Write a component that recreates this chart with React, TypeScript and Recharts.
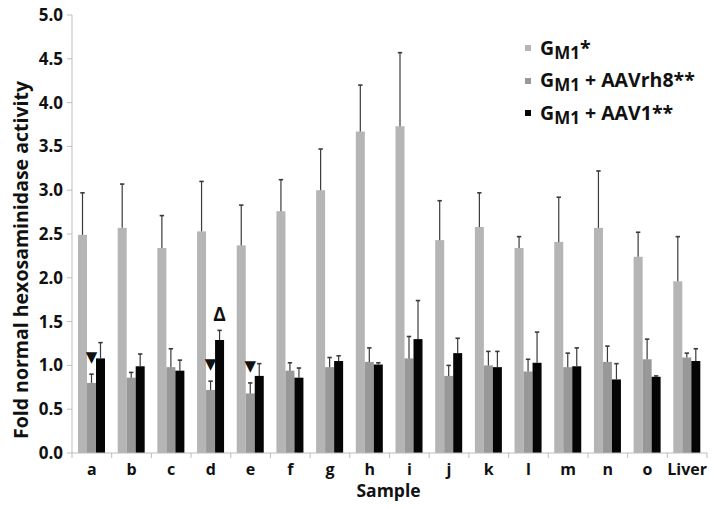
import React from 'react';
import { BarChart, Bar, XAxis, YAxis, LabelList, Legend } from 'recharts';

const categories = ['a', 'b', 'c', 'd', 'e', 'f', 'g', 'h', 'i', 'j', 'k', 'l', 'm', 'n', 'o', 'Liver'];
const gm1 = [2.49, 2.57, 2.34, 2.53, 2.37, 2.76, 3.0, 3.67, 3.73, 2.43, 2.58, 2.34, 2.41, 2.57, 2.24, 1.96];
const gm1Err = [0.48, 0.5, 0.37, 0.57, 0.46, 0.36, 0.47, 0.53, 0.84, 0.45, 0.39, 0.13, 0.51, 0.65, 0.28, 0.51];
const rh8 = [0.8, 0.86, 0.98, 0.72, 0.68, 0.94, 0.98, 1.04, 1.08, 0.88, 1.0, 0.93, 0.98, 1.04, 1.07, 1.09];
const rh8Err = [0.1, 0.06, 0.21, 0.1, 0.12, 0.09, 0.11, 0.16, 0.25, 0.12, 0.16, 0.14, 0.16, 0.18, 0.23, 0.05];
const aav1 = [1.08, 0.99, 0.94, 1.29, 0.88, 0.86, 1.05, 1.01, 1.3, 1.14, 0.98, 1.03, 0.99, 0.84, 0.87, 1.05];
const aav1Err = [0.18, 0.14, 0.12, 0.11, 0.14, 0.11, 0.06, 0.02, 0.44, 0.17, 0.18, 0.35, 0.21, 0.18, 0.01, 0.14];
const rh8Marks = ['▼\uFE0E', '', '', '▼\uFE0E', '▼\uFE0E', '', '', '', '', '', '', '', '', '', '', ''];
const aav1Marks = ['', '', '', 'Δ', '', '', '', '', '', '', '', '', '', '', '', ''];
const yTicks = [0, 0.5, 1, 1.5, 2, 2.5, 3, 3.5, 4, 4.5, 5];

const data = categories.map((c, i) => ({
  name: c,
  gm1: gm1[i],
  gm1Err: gm1Err[i],
  rh8: rh8[i],
  rh8Err: rh8Err[i],
  aav1: aav1[i],
  aav1Err: aav1Err[i],
  rh8Mark: rh8Marks[i],
  aav1Mark: aav1Marks[i],
}));

const FONT = '"Open Sans", "DejaVu Sans", sans-serif';
const C_LIGHT = '#b5b5b5';
const C_MED = '#989898';
const C_DARK = '#050505';
const ERR = '#3a3a3a';

const makeShape = (valKey: string, errKey: string) => (props: any) => {
  const { x, y, width, height, fill, payload } = props;
  const v = payload[valKey];
  const e = payload[errKey];
  const ppu = v ? height / v : 0;
  const top = y - e * ppu;
  const cx = x + width / 2;
  return (
    <g>
      <rect x={x} y={y} width={width} height={height} fill={fill} />
      <line x1={cx} x2={cx} y1={y} y2={top} stroke={ERR} strokeWidth={1.2} />
      <line x1={cx - 2.2} x2={cx + 2.2} y1={top} y2={top} stroke={ERR} strokeWidth={1.6} />
    </g>
  );
};

const makeMark = (valKey: string, errKey: string, gap: number, size: number, family: string) => (props: any) => {
  const { x, y, width, height, value, index } = props;
  if (!value) return null;
  const d: any = data[index];
  const ppu = d[valKey] ? height / d[valKey] : 0;
  const top = y - d[errKey] * ppu;
  return (
    <text x={x + width / 2} y={top - gap} textAnchor="middle" fontFamily={family} fontWeight={700} fontSize={size} fill="#111">
      {value}
    </text>
  );
};

const XTick = (props: any) => {
  const { x, y, payload, index } = props;
  const off = payload && payload.offset != null ? payload.offset : 19.84;
  return (
    <g>
      <line x1={x - off} x2={x - off} y1={y} y2={y + 5} stroke="#bdbdbd" />
      {index === categories.length - 1 && <line x1={x + off} x2={x + off} y1={y} y2={y + 5} stroke="#bdbdbd" />}
      <text x={x} y={y + 22} textAnchor="middle" fontFamily={FONT} fontWeight={700} fontSize={16} fill="#111">
        {payload.value}
      </text>
    </g>
  );
};

const legendItems = [
  { color: C_LIGHT, rest: '*' },
  { color: C_MED, rest: ' + AAVrh8**' },
  { color: C_DARK, rest: ' + AAV1**' },
];

const LegendContent = () => (
  <div style={{ fontFamily: FONT, fontWeight: 700, fontSize: 19.5, color: '#111' }}>
    {legendItems.map((it, i) => (
      <div key={i} style={{ height: 32.5, lineHeight: '32.5px', whiteSpace: 'nowrap', display: 'flex', alignItems: 'center' }}>
        <span style={{ display: 'inline-block', width: 6, height: 6, background: it.color, marginRight: 9 }} />
        <span>
          G
          <span style={{ fontSize: 17, position: 'relative', top: 4 }}>M1</span>
          {it.rest}
        </span>
      </div>
    ))}
  </div>
);

const YLabel = (props: any) => {
  const vb = props.viewBox || { x: 0, y: 15, width: 72, height: 438 };
  const cx = vb.x + 28;
  const cy = 260;
  return (
    <text x={cx} y={cy} transform={`rotate(-90, ${cx}, ${cy})`} textAnchor="middle" fontFamily={FONT} fontWeight={700} fontSize={19.5} fill="#111">
      Fold normal hexosaminidase activity
    </text>
  );
};

const XLabel = (props: any) => {
  const vb = props.viewBox || { x: 72, y: 453, width: 635, height: 56 };
  return (
    <text x={vb.x + vb.width / 2 - 1} y={vb.y + 44} textAnchor="middle" fontFamily={FONT} fontWeight={700} fontSize={17.5} fill="#111">
      Sample
    </text>
  );
};

export default function App() {
  return (
    <div style={{ position: 'absolute', left: 0, top: 0, width: 714, height: 509, background: '#fff' }}>
      <BarChart width={714} height={509} data={data} margin={{ top: 15, right: 7, left: 0, bottom: 0 }} barGap={0} barSize={9}>
        <XAxis
          dataKey="name"
          height={56}
          tickSize={0}
          tickMargin={0}
          tickLine={false}
          axisLine={{ stroke: '#bdbdbd' }}
          tick={<XTick />}
          interval={0}
          label={<XLabel />}
        />
        <YAxis
          width={72}
          domain={[0, 5]}
          ticks={yTicks}
          interval={0}
          tickFormatter={(v: number) => v.toFixed(1)}
          axisLine={{ stroke: '#bdbdbd' }}
          tickLine={{ stroke: '#bdbdbd' }}
          tickSize={5}
          tickMargin={4}
          tick={{ fontFamily: FONT, fontWeight: 700, fontSize: 17, fill: '#111' }}
          label={<YLabel />}
        />
        <Legend
          layout="vertical"
          align="center"
          verticalAlign="middle"
          content={<LegendContent />}
          wrapperStyle={{ position: 'absolute', left: 525, top: 32, width: 189, height: 100 }}
        />
        <Bar dataKey="gm1" fill={C_LIGHT} isAnimationActive={false} shape={makeShape('gm1', 'gm1Err')} />
        <Bar dataKey="rh8" fill={C_MED} isAnimationActive={false} shape={makeShape('rh8', 'rh8Err')}>
          <LabelList dataKey="rh8Mark" content={makeMark('rh8', 'rh8Err', 12, 15, '"DejaVu Sans", sans-serif')} />
        </Bar>
        <Bar dataKey="aav1" fill={C_DARK} isAnimationActive={false} shape={makeShape('aav1', 'aav1Err')}>
          <LabelList dataKey="aav1Mark" content={makeMark('aav1', 'aav1Err', 9, 19, FONT)} />
        </Bar>
      </BarChart>
    </div>
  );
}
